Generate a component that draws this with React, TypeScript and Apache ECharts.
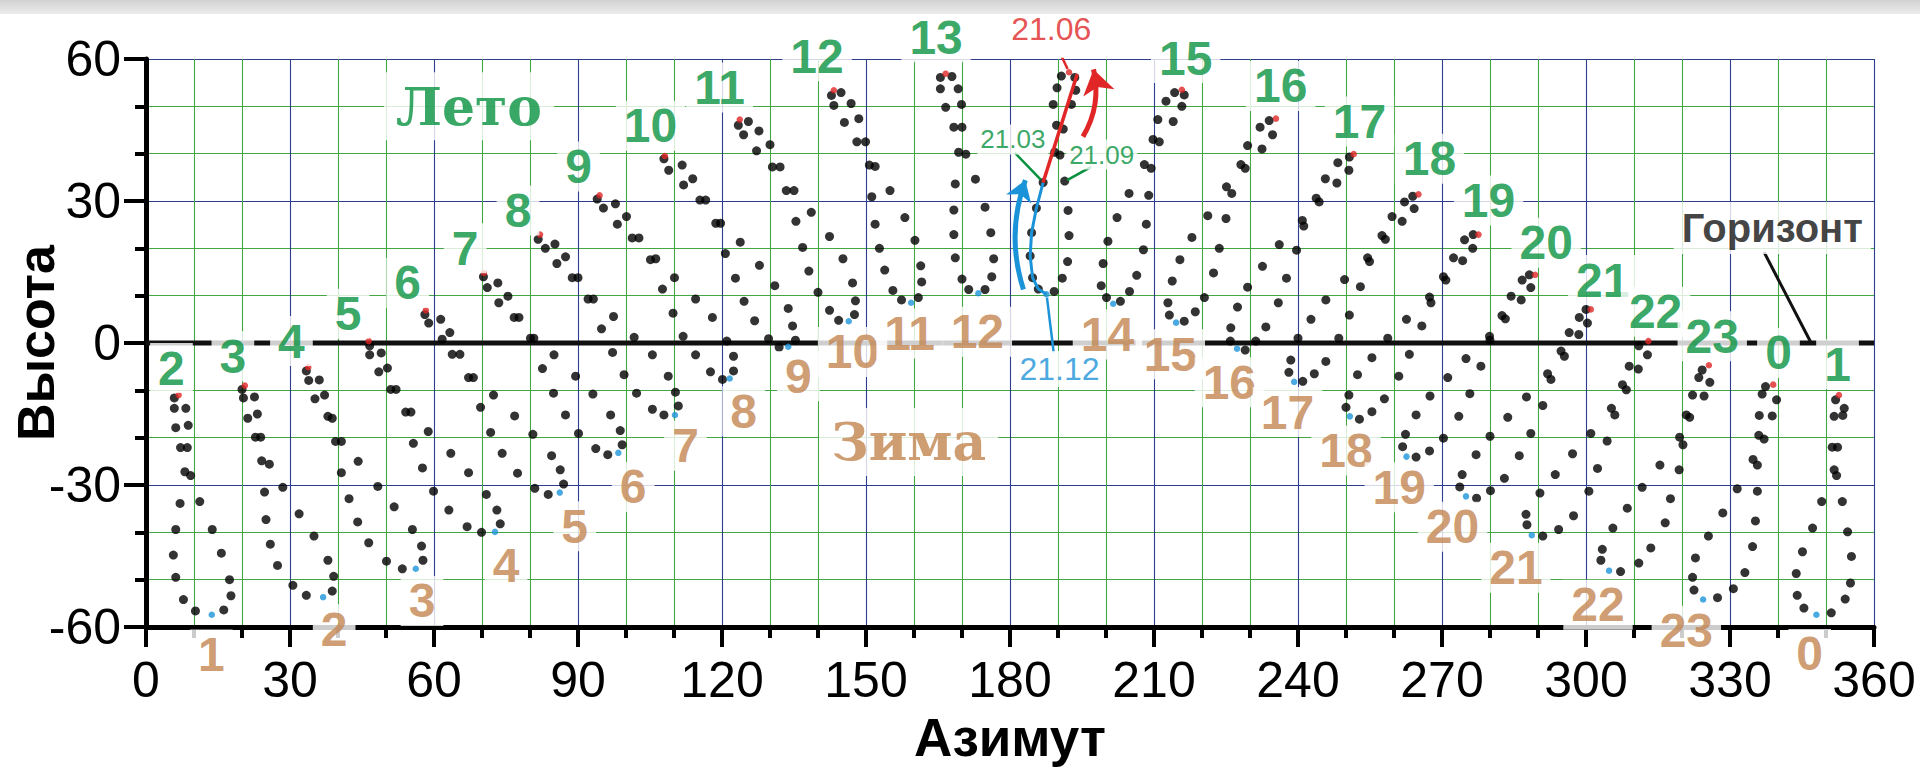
import React, { useEffect, useRef } from "react";
import * as echarts from "echarts";

// ---- Data: black dots of each analemma (azimuth, altitude), named by summer hour ----
const hour2 = [[5.9,-11.6],[5.9,-13.8],[8.3,-13.8],[6.2,-17.9],[8.8,-17.4],[7.2,-22.1],[8.6,-22.1],[8.1,-27.2],[9.3,-28.0],[7.1,-33.9],[11.2,-33.5],[6.2,-39.4],[13.8,-39.4],[5.7,-44.8],[15.7,-44.4],[6.2,-49.5],[17.4,-50.0],[7.8,-54.2],[17.7,-53.4],[10.3,-56.6],[16.2,-56.4]];
const hour3 = [[20.0,-9.8],[20.3,-11.6],[22.6,-11.4],[21.2,-15.9],[23.2,-15.0],[22.8,-19.9],[23.9,-19.9],[24.1,-24.9],[25.7,-25.6],[28.5,-30.5],[24.7,-31.5],[25.0,-37.3],[31.9,-36.1],[25.9,-42.5],[35.0,-40.8],[27.4,-47.0],[37.9,-45.9],[30.6,-51.2],[39.1,-49.3],[33.4,-53.3],[38.8,-52.4]];
const hour4 = [[33.4,-5.9],[33.9,-7.9],[36.1,-7.8],[35.2,-11.8],[37.2,-11.0],[37.9,-15.5],[38.8,-15.9],[39.5,-20.8],[40.7,-20.8],[40.7,-27.4],[44.2,-25.0],[42.3,-32.9],[48.3,-30.3],[44.1,-37.8],[51.7,-34.6],[46.4,-42.2],[55.5,-39.4],[50.1,-46.1],[57.4,-42.9],[53.4,-47.7],[57.7,-45.9]];
const hour5 = [[46.6,-0.6],[46.6,-2.5],[49.0,-2.1],[48.5,-6.1],[50.3,-5.3],[51.0,-9.8],[52.1,-9.8],[54.1,-14.6],[55.2,-14.6],[55.7,-21.2],[58.8,-18.7],[57.6,-26.4],[63.5,-23.3],[59.9,-31.3],[67.2,-27.4],[63.1,-35.3],[70.9,-32.0],[66.9,-38.8],[73.1,-35.3],[69.9,-40.0],[73.8,-38.2]];
const hour6 = [[58.1,6.0],[58.9,4.2],[61.4,5.0],[61.7,0.8],[63.3,2.2],[63.8,-2.4],[65.4,-2.4],[67.2,-7.3],[68.2,-7.3],[69.7,-13.6],[72.4,-11.0],[71.8,-18.9],[76.8,-15.4],[74.2,-23.3],[80.6,-19.3],[77.4,-27.5],[84.5,-23.8],[81.0,-30.7],[86.3,-26.8],[83.8,-32.0],[87.0,-29.8]];
const hour7 = [[70.3,14.0],[71.1,11.7],[73.3,12.7],[73.5,8.5],[75.4,9.9],[76.7,5.4],[77.7,5.4],[80.1,1.0],[80.8,1.0],[82.6,-5.4],[85.0,-2.5],[84.9,-10.6],[89.5,-7.0],[87.4,-15.2],[93.1,-10.8],[90.1,-19.1],[96.8,-15.2],[93.7,-22.3],[98.8,-18.5],[96.2,-23.6],[99.2,-21.5]];
const hour8 = [[81.7,21.9],[83.2,20.0],[85.2,20.9],[85.6,16.8],[87.4,18.2],[88.8,13.8],[90.0,13.8],[92.1,9.3],[93.2,9.3],[94.9,3.0],[97.4,5.6],[97.2,-2.0],[101.7,1.2],[99.6,-6.7],[105.5,-2.5],[102.2,-10.6],[108.8,-7.0],[105.5,-14.0],[110.3,-10.4],[107.9,-15.2],[110.9,-13.3]];
const hour9 = [[94.0,30.4],[95.3,28.5],[97.8,29.4],[98.2,25.1],[100.1,26.7],[101.3,22.2],[102.7,22.2],[105.1,17.6],[106.2,17.8],[107.6,11.4],[110.1,13.8],[109.8,6.3],[114.5,9.3],[111.9,1.4],[118.0,5.4],[114.5,-2.5],[121.0,0.4],[117.6,-6.1],[122.4,-2.8],[120.1,-7.7],[122.4,-5.9]];
const hour10 = [[107.9,38.9],[108.9,36.5],[111.7,37.6],[112.0,33.4],[113.9,34.7],[115.4,30.2],[116.6,30.2],[118.7,25.3],[119.7,25.3],[120.7,18.9],[123.8,21.3],[122.8,13.7],[127.8,16.4],[124.6,8.8],[131.0,12.1],[126.8,4.7],[133.8,7.3],[129.7,0.9],[134.7,3.6],[131.9,-0.9],[135.3,0.6]];
const hour11 = [[123.4,46.0],[125.5,46.8],[124.5,44.0],[127.7,44.8],[127.2,40.6],[130.0,41.9],[130.5,37.2],[132.1,37.2],[133.4,32.2],[135.0,32.2],[135.4,25.7],[138.6,27.6],[136.8,20.2],[142.4,22.5],[138.1,15.2],[145.2,17.8],[140.0,10.7],[147.2,12.7],[142.4,6.9],[147.8,8.9],[144.3,4.8],[147.6,6.0]];
const hour12 = [[142.8,52.3],[144.8,52.9],[143.3,50.2],[146.9,50.6],[145.5,46.6],[148.5,47.4],[148.1,42.5],[149.9,42.5],[150.7,37.6],[151.9,37.3],[151.2,30.9],[155.0,32.2],[151.9,25.1],[158.1,26.5],[152.8,20.0],[160.2,21.7],[153.9,15.4],[161.4,16.3],[155.6,11.1],[161.6,12.9],[157.4,9.1],[160.9,9.6]];
const hour13 = [[165.5,56.1],[167.9,56.3],[165.5,53.7],[169.2,53.7],[166.6,49.8],[169.9,50.4],[168.3,45.6],[170.0,45.6],[169.3,40.3],[170.8,39.9],[168.6,33.6],[172.8,34.6],[168.3,28.1],[174.8,28.7],[168.3,22.9],[176.0,23.3],[168.6,18.0],[176.6,17.8],[170.0,13.5],[176.2,14.0],[171.4,11.3],[174.8,11.3]];
const hour14 = [[190.7,56.4],[193.5,56.1],[189.8,53.9],[193.7,53.4],[189.0,50.4],[192.8,50.4],[189.7,46.0],[191.1,45.2],[189.3,40.3],[190.4,39.7],[186.9,33.9],[191.4,34.2],[185.5,28.5],[192.1,28.0],[184.5,23.3],[192.3,22.7],[184.2,18.4],[192.0,17.2],[184.7,13.8],[190.9,13.7],[185.9,11.4],[189.2,10.9]];
const hour15 = [[214.3,52.9],[212.5,51.1],[216.3,52.4],[215.8,50.0],[214.0,46.8],[210.8,47.2],[209.8,43.0],[211.1,42.5],[208.0,37.7],[209.4,36.9],[208.9,31.2],[204.8,31.6],[208.4,25.1],[202.3,26.5],[207.8,19.7],[200.4,21.5],[206.4,14.3],[199.4,16.8],[204.9,10.9],[199.0,12.1],[203.0,8.8],[200.1,9.6]];
const hour16 = [[234.0,47.0],[232.1,45.6],[234.7,44.0],[232.5,41.0],[229.5,41.7],[228.1,37.7],[229.0,36.9],[225.1,33.0],[226.2,31.6],[225.0,26.3],[221.2,26.9],[223.6,20.0],[217.9,22.3],[222.4,14.8],[215.4,17.6],[220.5,9.6],[213.8,13.1],[218.6,6.6],[212.9,8.5],[216.3,4.6],[213.2,5.9]];
const hour17 = [[250.7,39.3],[248.3,38.1],[250.6,36.5],[248.1,33.8],[245.7,34.7],[243.8,30.6],[244.4,29.8],[240.9,25.9],[241.2,24.7],[239.7,19.6],[236.1,20.8],[237.6,13.7],[232.6,16.2],[235.9,8.5],[229.5,11.8],[233.3,3.4],[227.4,7.6],[231.2,0.4],[226.0,3.2],[225.9,0.4],[229.0,-1.5]];
const hour18 = [[263.9,31.0],[262.2,29.8],[264.2,28.4],[261.7,25.7],[259.6,26.7],[257.5,22.7],[258.2,21.9],[254.5,18.0],[254.9,17.2],[253.0,11.9],[249.7,13.4],[250.7,5.9],[245.8,9.1],[248.5,1.0],[242.7,5.0],[245.8,-3.9],[240.0,1.0],[243.4,-6.5],[238.5,-3.6],[241.0,-8.1],[238.1,-6.2]];
const hour19 = [[276.5,22.9],[274.7,21.8],[276.4,20.0],[274.3,17.4],[272.4,18.0],[270.3,14.0],[270.8,13.3],[267.4,9.7],[267.7,8.5],[265.8,3.6],[262.6,5.0],[263.2,-2.4],[258.7,1.0],[261.0,-7.0],[255.4,-3.1],[258.0,-11.8],[252.4,-6.7],[255.4,-14.5],[250.6,-11.0],[252.8,-16.1],[250.0,-13.6]];
const hour20 = [[288.2,14.4],[286.7,13.3],[288.5,11.7],[286.5,9.1],[284.4,9.9],[282.5,5.8],[283.2,5.1],[279.9,1.4],[280.0,0.6],[278.1,-4.9],[275.0,-3.3],[275.8,-10.7],[271.2,-7.3],[273.5,-15.5],[267.5,-11.2],[270.3,-20.1],[264.6,-15.2],[267.4,-22.8],[262.4,-19.3],[264.6,-24.1],[261.8,-21.9]];
const hour21 = [[300.0,7.1],[298.6,5.4],[300.3,4.2],[298.5,1.8],[296.5,2.2],[294.8,-1.7],[295.5,-2.8],[292.0,-6.5],[292.7,-7.7],[291.0,-13.2],[287.6,-11.4],[288.5,-19.1],[283.7,-15.7],[286.1,-23.8],[280.0,-19.7],[283.0,-28.6],[277.1,-23.6],[280.1,-31.2],[274.2,-27.8],[277.2,-32.8],[273.7,-30.4]];
const hour22 = [[311.0,-0.6],[312.8,-2.5],[310.9,-5.5],[309.0,-4.9],[307.6,-8.8],[308.4,-9.9],[305.3,-13.8],[306.0,-15.2],[304.4,-20.7],[301.0,-19.1],[302.4,-26.5],[297.2,-23.4],[300.6,-31.3],[293.6,-27.8],[297.4,-36.5],[290.4,-31.7],[294.3,-39.4],[287.5,-36.2],[291.0,-40.8],[287.7,-38.4]];
const hour23 = [[324.2,-5.7],[323.5,-7.3],[325.8,-8.3],[322.2,-11.0],[324.6,-11.2],[320.9,-15.2],[321.6,-15.7],[319.5,-19.9],[320.2,-21.5],[319.4,-26.8],[315.4,-25.8],[317.6,-32.9],[311.7,-30.5],[316.5,-38.0],[308.6,-34.9],[313.5,-43.3],[305.6,-39.1],[311.0,-46.5],[303.4,-43.6],[307.2,-48.3],[303.1,-45.9]];
const hour0 = [[337.4,-9.2],[336.7,-10.8],[339.7,-12.0],[336.1,-15.3],[338.8,-15.4],[336.0,-19.5],[337.1,-20.3],[334.8,-24.6],[335.7,-25.8],[335.7,-31.3],[331.5,-30.8],[335.3,-37.6],[328.5,-35.9],[334.7,-43.0],[325.5,-40.8],[333.1,-48.5],[322.8,-45.4],[330.7,-51.9],[322.2,-49.5],[327.4,-53.8],[322.5,-52.2]];
const hour1 = [[352.0,-12.0],[353.8,-13.8],[351.7,-15.5],[353.5,-15.3],[351.3,-22.0],[352.4,-22.0],[351.7,-26.8],[352.2,-28.0],[353.4,-33.5],[349.1,-33.5],[354.5,-39.9],[347.2,-39.1],[355.3,-45.1],[345.1,-44.1],[355.1,-50.7],[343.8,-48.7],[354.0,-54.1],[344.0,-53.3],[345.4,-56.0],[351.1,-57.0]];

const analemmas = [hour2, hour3, hour4, hour5, hour6, hour7, hour8, hour9, hour10, hour11, hour12, hour13, hour14, hour15, hour16, hour17, hour18, hour19, hour20, hour21, hour22, hour23, hour0, hour1];

// Solstice points: 21.06 (red) and 21.12 (blue)
const summerSolstice = [[6.8,-11.0],[20.6,-9.0],[33.8,-5.1],[46.4,0.4],[58.3,6.9],[70.4,14.8],[82.1,22.9],[94.5,31.2],[108.1,39.5],[123.7,47.2],[143.3,53.4],[166.6,56.9],[192.3,57.2],[215.8,53.5],[235.4,47.4],[251.6,39.9],[265.1,31.4],[277.6,22.9],[289.4,14.4],[301.0,7.1],[313.0,0.4],[325.6,-4.7],[339.0,-8.8],[352.7,-11.0]];
const winterSolstice = [[13.7,-57.4],[36.9,-53.7],[56.2,-47.7],[72.7,-39.9],[86.2,-31.6],[98.4,-23.2],[110.2,-15.2],[121.6,-7.5],[133.8,-0.8],[146.4,4.6],[159.4,8.5],[173.4,10.5],[187.6,10.3],[201.5,8.3],[214.6,4.3],[227.3,-1.2],[239.2,-8.2],[250.8,-15.5],[262.6,-24.0],[275.0,-32.4],[288.7,-40.6],[304.8,-48.1],[324.4,-54.2],[348.0,-57.4]];

// Paths highlighted on the 14 h analemma
const springPath = [[186.9,33.9],[194.0,56.8]];
const winterPath = [[187.6,10.3],[185.9,11.4],[184.7,13.8],[184.2,18.4],[184.5,23.3],[185.5,28.5],[186.9,33.9]];

// Hour labels [text, azimuth, altitude]
const summerLabels = [["2",5.3,-5.3],["3",18.1,-2.8],["4",30.3,0.4],["5",42.1,6.2],["6",54.5,12.7],["7",66.5,20.0],["8",77.5,28.0],["9",90.1,37.3],["10",105.1,45.9],["11",119.5,54.0],["12",139.8,60.6],["13",164.6,64.6],["15",216.6,60.2],["16",236.4,54.3],["17",252.8,46.8],["18",267.4,38.9],["19",279.7,30.1],["20",291.7,21.2],["21",303.5,13.3],["22",314.5,6.6],["23",326.3,1.4],["0",340.1,-2.1],["1",352.4,-4.5]];
const winterLabels = [["1",13.6,-65.8],["2",39.2,-60.5],["3",57.5,-54.5],["4",75.0,-47.1],["5",89.3,-38.7],["6",101.5,-30.4],["7",112.4,-21.7],["8",124.5,-14.4],["9",135.9,-7.0],["10",147.2,-1.9],["11",159.1,2.0],["12",173.2,2.4],["14",200.3,1.8],["15",213.4,-2.4],["16",225.7,-8.3],["17",237.8,-14.6],["18",250.0,-22.7],["19",261.1,-30.5],["20",272.2,-38.8],["21",285.4,-47.5],["22",302.5,-55.3],["23",320.9,-60.8],["0",346.6,-65.7]];

const seasonSummer = [["Лето",67.3,50.0]];
const seasonWinter = [["Зима",158.9,-20.9]];
const horizonLabel = [["Горизонт",338.8,24.3]];
const dateJune = [["21.06",188.6,66.3]];
const dateEquinox = [["21.03",180.6,43.0],["21.09",199.1,39.8]];
const dateDecember = [["21.12",190.3,-5.5]];

const leaderRed = [[[189.5,63.2],[192.0,57.9]]];
const leaderGreen = [[[181.0,40.2],[186.4,34.5]],[[196.9,37.2],[191.9,34.4]]];
const leaderBlue = [[[189.1,-2.0],[187.7,9.6]]];
const leaderBlack = [[[337.1,19.2],[346.8,0.2]]];

const arrowBlue = [[182.8,11.3],[183.2,34.4]];
const arrowRed = [[195.2,43.6],[197.4,57.8]];

const horizon = [[0,0],[360,0]];

// ---- Styles ----
const GREEN = "#07913f";
const BROWN = "#c2844f";
const RED = "#e02626";
const BLUE = "#1b93d8";
const SANS = "Liberation Sans, Arial, sans-serif";
const SERIF = "DejaVu Serif, serif";

function textSeries(items: any[], label: any, z = 10) {
  return {
    type: "scatter",
    symbolSize: 1,
    itemStyle: { color: "rgba(0,0,0,0)" },
    clip: false,
    silent: true,
    z,
    data: items.map(([t, x, y]) => ({ name: t, value: [x, y] })),
    label: { show: true, position: "inside", formatter: "{b}", ...label },
  };
}

function leaderSeries(items: any[], color: string, width: number) {
  return {
    type: "lines",
    coordinateSystem: "cartesian2d",
    silent: true,
    z: 8,
    symbol: ["none", "none"],
    lineStyle: { color, width, opacity: 1 },
    data: items.map((c) => ({ coords: c })),
  };
}

function buildOption() {
  const dotSeries = analemmas.map((pts) => ({
    type: "scatter",
    data: pts,
    symbolSize: 9,
    itemStyle: { color: "#000" },
    silent: true,
    clip: false,
    z: 4,
  }));

  return {
    animation: false,
    backgroundColor: "#ffffff",
    graphic: [
      {
        type: "rect",
        shape: { x: 0, y: 0, width: 1920, height: 14 },
        style: {
          fill: new echarts.graphic.LinearGradient(0, 0, 0, 1, [
            { offset: 0, color: "#d2d2d2" },
            { offset: 1, color: "#ececec" },
          ]),
        },
        silent: true,
        z: 100,
      },
    ],
    grid: { left: 146, right: 46, top: 59, bottom: 142, containLabel: false, outerBoundsMode: "none" },
    xAxis: {
      type: "value",
      min: 0,
      max: 360,
      interval: 30,
      name: "Азимут",
      nameLocation: "middle",
      nameGap: 84,
      nameMoveOverlap: false,
      nameTextStyle: { fontFamily: SANS, fontWeight: "bold", fontSize: 53, color: "#000" },
      axisLine: { onZero: false, lineStyle: { color: "#000", width: 5 } },
      axisTick: { length: 20, lineStyle: { color: "#000", width: 4 } },
      minorTick: { show: true, splitNumber: 3, length: 11, lineStyle: { color: "#000", width: 4 } },
      axisLabel: { fontFamily: SANS, fontSize: 50, color: "#000", margin: 28 },
      splitLine: { show: true, lineStyle: { color: "#2e3d8c", width: 1.1 } },
      minorSplitLine: { show: true, lineStyle: { color: "#43a543", width: 1.1 } },
    },
    yAxis: {
      type: "value",
      min: -60,
      max: 60,
      interval: 30,
      name: "Высота",
      nameLocation: "middle",
      nameRotate: 90,
      nameGap: 84,
      nameMoveOverlap: false,
      nameTextStyle: { fontFamily: SANS, fontWeight: "bold", fontSize: 52, color: "#000" },
      axisLine: { onZero: false, lineStyle: { color: "#000", width: 5 } },
      axisTick: { length: 22, lineStyle: { color: "#000", width: 4 } },
      minorTick: { show: true, splitNumber: 3, length: 11, lineStyle: { color: "#000", width: 4 } },
      axisLabel: { fontFamily: SANS, fontSize: 50, color: "#000", margin: 25 },
      splitLine: { show: true, lineStyle: { color: "#2e3d8c", width: 1.1 } },
      minorSplitLine: { show: true, lineStyle: { color: "#43a543", width: 1.1 } },
    },
    series: [
      {
        type: "line",
        data: horizon,
        symbol: "none",
        silent: true,
        lineStyle: { color: "#111", width: 5 },
        z: 3,
      },
      ...dotSeries,
      {
        type: "line",
        data: winterPath,
        symbol: "none",
        silent: true,
        lineStyle: { color: BLUE, width: 3 },
        z: 5,
      },
      {
        type: "line",
        data: springPath,
        symbol: "none",
        silent: true,
        lineStyle: { color: RED, width: 3.5 },
        z: 5,
      },
      {
        type: "scatter",
        data: summerSolstice,
        symbolSize: 6.5,
        itemStyle: { color: RED },
        silent: true,
        z: 6,
      },
      {
        type: "scatter",
        data: winterSolstice,
        symbolSize: 6.5,
        itemStyle: { color: BLUE },
        silent: true,
        z: 6,
      },
      leaderSeries(leaderRed, RED, 2.5),
      leaderSeries(leaderGreen, GREEN, 2.5),
      leaderSeries(leaderBlue, BLUE, 2.5),
      leaderSeries(leaderBlack, "#111", 3),
      {
        type: "lines",
        coordinateSystem: "cartesian2d",
        silent: true,
        z: 8,
        symbol: ["none", "arrow"],
        symbolSize: 20,
        lineStyle: { color: BLUE, width: 5, curveness: 0.17, opacity: 1 },
        data: [{ coords: arrowBlue }],
      },
      {
        type: "lines",
        coordinateSystem: "cartesian2d",
        silent: true,
        z: 8,
        symbol: ["none", "arrow"],
        symbolSize: 24,
        lineStyle: { color: RED, width: 5, curveness: -0.2, opacity: 1 },
        data: [{ coords: arrowRed }],
      },
      textSeries(summerLabels, {
        color: GREEN, fontFamily: SANS, fontWeight: "bold", fontSize: 48,
        backgroundColor: "#fff", padding: [2, 8, 0, 8],
      }),
      textSeries(winterLabels, {
        color: BROWN, fontFamily: SANS, fontWeight: "bold", fontSize: 48,
        backgroundColor: "#fff", padding: [2, 8, 0, 8],
      }),
      textSeries(seasonSummer, {
        color: GREEN, fontFamily: SERIF, fontWeight: "bold", fontSize: 52,
        backgroundColor: "#fff", padding: [8, 12],
      }),
      textSeries(seasonWinter, {
        color: BROWN, fontFamily: SERIF, fontWeight: "bold", fontSize: 52,
        backgroundColor: "#fff", padding: [8, 12],
      }),
      textSeries(horizonLabel, {
        color: "#111", fontFamily: SANS, fontWeight: "bold", fontSize: 40,
        backgroundColor: "#fff", padding: [6, 8],
      }),
      textSeries(dateJune, {
        color: RED, fontFamily: SANS, fontSize: 32, padding: [0, 2],
      }),
      textSeries(dateEquinox, {
        color: GREEN, fontFamily: SANS, fontSize: 26,
        backgroundColor: "#fff", padding: [2, 3],
      }),
      textSeries(dateDecember, {
        color: BLUE, fontFamily: SANS, fontSize: 32,
        backgroundColor: "#fff", padding: [2, 3],
      }),
    ],
  };
}

export default function App() {
  const ref = useRef<HTMLDivElement>(null);
  useEffect(() => {
    if (!ref.current) return;
    const chart = echarts.init(ref.current, null, { renderer: "svg" });
    chart.setOption(buildOption() as any);
    return () => chart.dispose();
  }, []);
  return (
    <div
      ref={ref}
      style={{ position: "absolute", left: 0, top: 0, width: 1920, height: 769, background: "#fff" }}
    />
  );
}
